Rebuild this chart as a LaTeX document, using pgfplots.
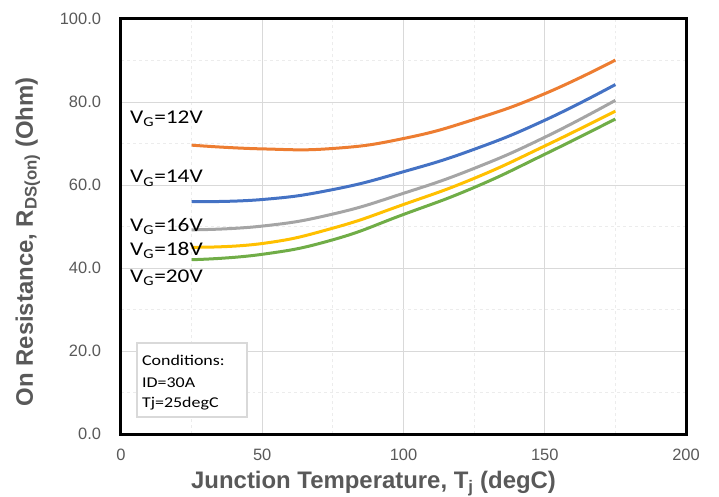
\documentclass[border=0pt]{standalone}
\usepackage{fontspec}
\setmainfont{Liberation Sans}
\newfontfamily\calx[FakeStretch=1.2]{Carlito}
\usepackage{pgfplots}
\pgfplotsset{compat=1.18}
\definecolor{tickgray}{HTML}{595959}
\definecolor{gridmaj}{HTML}{D9D9D9}
\definecolor{gridmin}{HTML}{ECECEC}
\definecolor{c12}{HTML}{ED7D31}
\definecolor{c14}{HTML}{4472C4}
\definecolor{c16}{HTML}{A5A5A5}
\definecolor{c18}{HTML}{FFC000}
\definecolor{c20}{HTML}{70AD47}
\begin{document}
\begin{tikzpicture}
\useasboundingbox (-121bp,-63bp) rectangle (598bp,434bp);
\begin{axis}[
  at={(0,0)}, anchor=south west,
  scale only axis, width=565bp, height=415bp,
  xmin=0, xmax=200, ymin=0, ymax=100,
  xtick={0,50,100,150,200}, ytick={0,20,40,60,80,100},
  minor x tick num=1, minor y tick num=1,
  grid=both,
  major grid style={draw=gridmaj, line width=0.9bp},
  minor grid style={draw=gridmin, dashed, line width=0.9bp},
  major tick length=0pt, minor tick length=0pt,
  axis line style={draw=none},
  /pgf/number format/assume math mode=true,
  tick label style={font=\fontsize{16.5}{18}\selectfont, text=tickgray},
  y tick label style={/pgf/number format/.cd, fixed, fixed zerofill, precision=1, /tikz/.cd, xshift=-16.5bp},
  x tick label style={yshift=-11.5bp},
  xlabel={Junction Temperature, T\textsubscript{j} (degC)},
  ylabel={On Resistance, R\textsubscript{DS(on)} (Ohm)},
  label style={font=\bfseries\fontsize{24}{28}\selectfont, text=tickgray},
  xlabel style={at={(axis description cs:0.447,-0.1325)}, anchor=base},
  ylabel style={at={(axis description cs:-0.1558,0.463)}, anchor=base},
  clip=false,
]
\addplot[c12, line width=3bp, smooth, tension=0.8] coordinates {
(25,69.6) (50,68.7) (75,68.8) (100,71.2) (125,75.8) (150,82.0) (175,90.1)};
\addplot[c14, line width=3bp, smooth, tension=0.8] coordinates {
(25,56.0) (50,56.5) (75,58.9) (100,63.2) (125,68.6) (150,75.6) (175,84.2)};
\addplot[c16, line width=3bp, smooth, tension=0.8] coordinates {
(25,49.2) (50,50.1) (75,53.0) (100,58.0) (125,64.0) (150,71.5) (175,80.4)};
\addplot[c18, line width=3bp, smooth, tension=0.8] coordinates {
(25,45.0) (50,45.9) (75,49.6) (100,55.3) (125,61.6) (150,69.4) (175,77.8)};
\addplot[c20, line width=3bp, smooth, tension=0.8] coordinates {
(25,42.0) (50,43.3) (75,46.8) (100,52.9) (125,59.4) (150,67.4) (175,75.9)};
\node[anchor=base west, inner sep=0, font=\calx\fontsize{19.5}{22}\selectfont] at (axis cs:3.2,74.9) {V\textsubscript{G}=12V};
\node[anchor=base west, inner sep=0, font=\calx\fontsize{19.5}{22}\selectfont] at (axis cs:3.2,60.5) {V\textsubscript{G}=14V};
\node[anchor=base west, inner sep=0, font=\calx\fontsize{19.5}{22}\selectfont] at (axis cs:3.2,48.9) {V\textsubscript{G}=16V};
\node[anchor=base west, inner sep=0, font=\calx\fontsize{19.5}{22}\selectfont] at (axis cs:3.2,43.1) {V\textsubscript{G}=18V};
\node[anchor=base west, inner sep=0, font=\calx\fontsize{19.5}{22}\selectfont] at (axis cs:3.2,36.6) {V\textsubscript{G}=20V};
\draw[gridmaj, line width=1.8bp, fill=white] (axis cs:5.7,21.9) rectangle (axis cs:44.6,4.1);
\node[anchor=base west, inner sep=0, font=\calx\fontsize{15}{18}\selectfont] at (axis cs:7.4,16.6) {Conditions:};
\node[anchor=base west, inner sep=0, font=\calx\fontsize{15}{18}\selectfont] at (axis cs:7.4,11.3) {ID=30A};
\node[anchor=base west, inner sep=0, font=\calx\fontsize{15}{18}\selectfont] at (axis cs:7.4,6.5) {Tj=25degC};
\draw[black, line width=3bp] (rel axis cs:0,0) rectangle (rel axis cs:1,1);
\end{axis}
\end{tikzpicture}
\end{document}
